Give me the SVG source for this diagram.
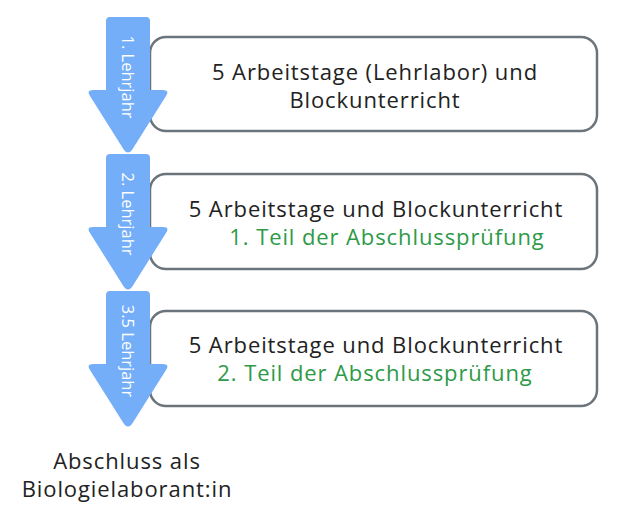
<svg xmlns="http://www.w3.org/2000/svg" width="618" height="515" viewBox="0 0 618 515">
<style>
.box{fill:#fff;stroke:#6b737b;stroke-width:2.5}
.arr{fill:#74aef8}
.t{font-family:"Open Sans",sans-serif;font-size:22px;letter-spacing:0.9px;fill:#222;text-anchor:middle}
.g{fill:#2e9a48}
.v{font-family:"Open Sans",sans-serif;font-size:16.5px;fill:#fff;text-anchor:middle}
</style>
<g id="box1"><rect class="box" x="150" y="37" width="447" height="94" rx="16"/>
<text class="t" x="375" y="80">5 Arbeitstage (Lehrlabor) und</text><text class="t" x="375" y="108">Blockunterricht</text></g>
<g id="box2"><rect class="box" x="150" y="174" width="447" height="95" rx="16"/>
<text class="t" x="376" y="217">5 Arbeitstage und Blockunterricht</text><text class="t g" x="387" y="245">1. Teil der Abschlussprüfung</text></g>
<g id="box3"><rect class="box" x="150" y="311" width="447" height="95" rx="16"/>
<text class="t" x="376" y="353">5 Arbeitstage und Blockunterricht</text><text class="t g" x="375" y="381">2. Teil der Abschlussprüfung</text></g>
<g id="arrow1"><path class="arr" d="M110 17 H146 Q150 17 150 21 V90 H163 Q170 90 166 96 L132 150 Q128 155 124 150 L90 96 Q86 90 93 90 H106 V21 Q106 17 110 17Z"/>
<text class="v" transform="translate(122,77) rotate(90)">1. Lehrjahr</text></g>
<g id="arrow2"><path class="arr" d="M110 154 H146 Q150 154 150 158 V227 H163 Q170 227 166 233 L132 287 Q128 292 124 287 L90 233 Q86 227 93 227 H106 V158 Q106 154 110 154Z"/>
<text class="v" transform="translate(122,214) rotate(90)">2. Lehrjahr</text></g>
<g id="arrow3"><path class="arr" d="M110 291 H146 Q150 291 150 295 V364 H163 Q170 364 166 370 L132 424 Q128 429 124 424 L90 370 Q86 364 93 364 H106 V295 Q106 291 110 291Z"/>
<text class="v" transform="translate(122,351) rotate(90)">3.5 Lehrjahr</text></g>
<g id="end"><text class="t" x="127" y="469">Abschluss als</text><text class="t" x="127" y="497">Biologielaborant:in</text></g>
<g id="connectors"/>
</svg>
